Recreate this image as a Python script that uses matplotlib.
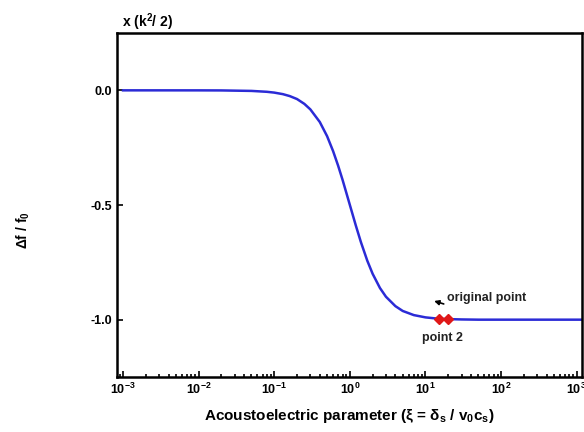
import numpy as np
import matplotlib.pyplot as plt
from matplotlib.ticker import LogLocator, FixedLocator, FuncFormatter, NullFormatter

plt.rcParams['font.family'] = 'Liberation Sans'
plt.rcParams['font.weight'] = 'bold'
plt.rcParams['mathtext.fontset'] = 'custom'
plt.rcParams['mathtext.rm'] = 'Liberation Sans:bold'
plt.rcParams['mathtext.it'] = 'Liberation Sans:bold'
plt.rcParams['mathtext.bf'] = 'Liberation Sans:bold'

# curve
xi = [1e-3, 0.01, 0.02, 0.05, 0.08, 0.1, 0.13, 0.16, 0.2, 0.25, 0.3, 0.4, 0.5,
      0.6, 0.7, 0.8, 0.9, 1.0, 1.2, 1.4, 1.7, 2.0, 2.5, 3, 4, 5, 7, 10, 15, 20,
      30, 50, 100, 300, 1000, 1200]
df = [0.0, -0.0001, -0.0004, -0.0025, -0.0064, -0.0099, -0.0166, -0.025, -0.038,
      -0.059, -0.083, -0.138, -0.20, -0.265, -0.329, -0.39, -0.448, -0.50, -0.59,
      -0.662, -0.743, -0.80, -0.862, -0.90, -0.941, -0.962, -0.98, -0.99, -0.996,
      -0.9975, -0.999, -1.0, -1.0, -1.0, -1.0, -1.0]

# red points
pts_x = [15.0, 20.0]
pts_y = [-0.997, -0.997]

x_major = [1e-3, 1e-2, 1e-1, 1e0, 1e1, 1e2, 1e3]
y_major = [0.0, -0.5, -1.0]

fig = plt.figure(figsize=(5.84, 4.32), dpi=100)
ax = fig.add_axes([0.2003, 0.1273, 0.7963, 0.7963])

ax.plot(xi, df, color='#2b2bd6', lw=1.8)
ax.plot(pts_x, pts_y, 'D', color='#e01818', ms=5, mec='#e01818')

ax.set_xscale('log')
ax.set_xlim(10**-3.08, 10**3.07)
ax.set_ylim(-1.25, 0.25)
ax.set_yticks(y_major)
ax.yaxis.set_major_formatter(FuncFormatter(lambda v, p: f'{v:.1f}'))

ax.xaxis.set_major_locator(FixedLocator(x_major))
ax.xaxis.set_minor_locator(LogLocator(base=10, subs=np.arange(2, 10), numticks=20))
ax.xaxis.set_minor_formatter(NullFormatter())
ax.xaxis.set_major_formatter(FuncFormatter(
    lambda v, p: r'$\mathregular{10^{%d}}$' % round(np.log10(v))))

ax.tick_params(axis='both', which='both', direction='in', top=False, right=False,
               labelsize=9, width=1.2)
ax.tick_params(axis='both', which='major', length=4)
ax.tick_params(axis='x', which='minor', length=2)
for s in ax.spines.values():
    s.set_linewidth(1.8)

ax.set_xlabel(r'Acoustoelectric parameter (ξ = δ$_\mathregular{s}$ / v$_\mathregular{0}$c$_\mathregular{s}$)',
              fontsize=11, fontweight='bold', labelpad=7)
ax.set_ylabel(r'Δf / f$_\mathregular{0}$', fontsize=10, fontweight='bold')
ax.yaxis.set_label_coords(-0.183, 0.427)
ax.text(0.011, 1.0, r'x (k$^\mathregular{2}$/ 2)', transform=ax.transAxes,
        fontsize=10, fontweight='bold', ha='left', va='bottom')

ax.annotate('', xy=(12.0, -0.915), xytext=(18.9, -0.935),
            arrowprops=dict(arrowstyle='-|>', color='black', lw=1.2,
                            mutation_scale=7))
ax.text(19.5, -0.905, 'original point', fontsize=9, fontweight='bold',
        ha='left', va='center', color='#222222')
ax.text(17.0, -1.08, 'point 2', fontsize=9, fontweight='bold',
        ha='center', va='center', color='#222222')

fig.savefig('out.png', dpi=100)
